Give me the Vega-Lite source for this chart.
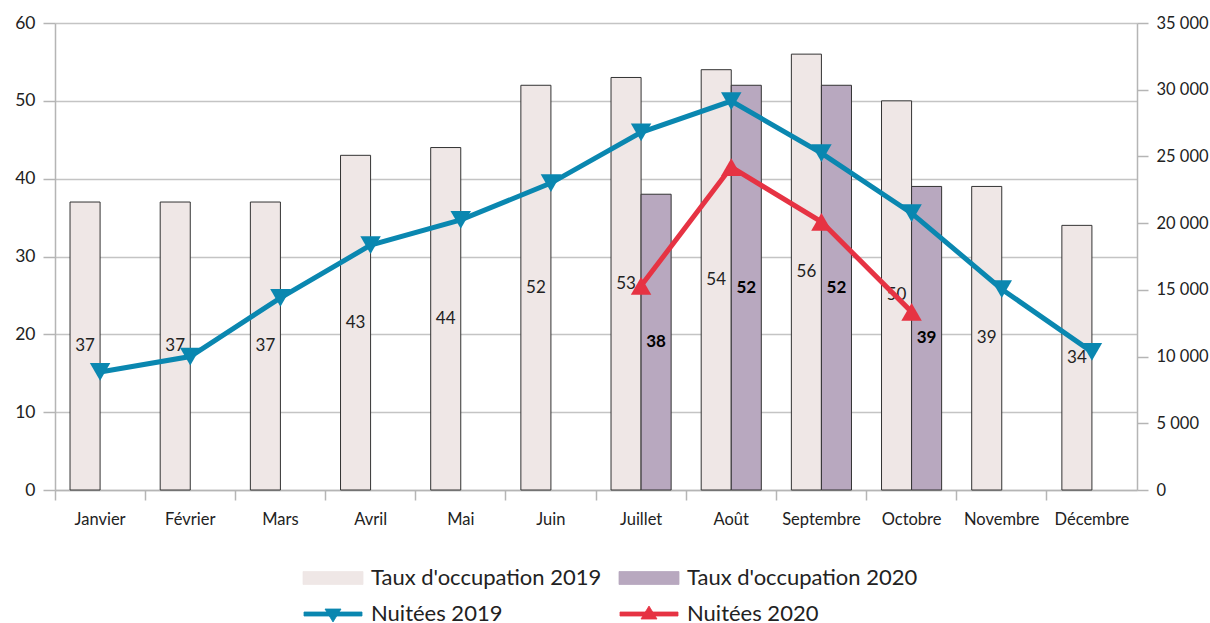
{
  "$schema": "https://vega.github.io/schema/vega-lite/v6.json",
  "width": 1082,
  "height": 467,
  "autosize": "none",
  "padding": {"left": 55, "top": 23, "right": 73, "bottom": 133},
  "config": {
    "font": "Lato",
    "view": {"stroke": null},
    "axis": {"labelFont": "Lato", "labelColor": "#222222", "titleFont": "Lato"},
    "legend": {
      "title": null,
      "orient": "none",
      "legendX": 267,
      "legendY": 544,
      "direction": "horizontal",
      "columns": 2,
      "columnPadding": 15,
      "rowPadding": 14,
      "padding": 0,
      "symbolSize": 400,
      "symbolStrokeColor": "#333333",
      "symbolStrokeWidth": 0.8,
      "symbolOpacity": 1,
      "labelOffset": 27,
      "labelFont": "Lato",
      "labelFontSize": 22,
      "labelColor": "#222222",
      "labelLimit": 400
    }
  },
  "datasets": {
    "taux": [
      {"mois": "Janvier", "serie": "Taux d'occupation 2019", "taux": 37},
      {"mois": "Février", "serie": "Taux d'occupation 2019", "taux": 37},
      {"mois": "Mars", "serie": "Taux d'occupation 2019", "taux": 37},
      {"mois": "Avril", "serie": "Taux d'occupation 2019", "taux": 43},
      {"mois": "Mai", "serie": "Taux d'occupation 2019", "taux": 44},
      {"mois": "Juin", "serie": "Taux d'occupation 2019", "taux": 52},
      {"mois": "Juillet", "serie": "Taux d'occupation 2019", "taux": 53},
      {"mois": "Août", "serie": "Taux d'occupation 2019", "taux": 54},
      {"mois": "Septembre", "serie": "Taux d'occupation 2019", "taux": 56},
      {"mois": "Octobre", "serie": "Taux d'occupation 2019", "taux": 50},
      {"mois": "Novembre", "serie": "Taux d'occupation 2019", "taux": 39},
      {"mois": "Décembre", "serie": "Taux d'occupation 2019", "taux": 34},
      {"mois": "Juillet", "serie": "Taux d'occupation 2020", "taux": 38},
      {"mois": "Août", "serie": "Taux d'occupation 2020", "taux": 52},
      {"mois": "Septembre", "serie": "Taux d'occupation 2020", "taux": 52},
      {"mois": "Octobre", "serie": "Taux d'occupation 2020", "taux": 39}
    ],
    "nuitees": [
      {"mois": "Janvier", "serie": "Nuitées 2019", "nuitees": 8850},
      {"mois": "Février", "serie": "Nuitées 2019", "nuitees": 10000},
      {"mois": "Mars", "serie": "Nuitées 2019", "nuitees": 14400},
      {"mois": "Avril", "serie": "Nuitées 2019", "nuitees": 18350},
      {"mois": "Mai", "serie": "Nuitées 2019", "nuitees": 20250},
      {"mois": "Juin", "serie": "Nuitées 2019", "nuitees": 23000},
      {"mois": "Juillet", "serie": "Nuitées 2019", "nuitees": 26800},
      {"mois": "Août", "serie": "Nuitées 2019", "nuitees": 29150},
      {"mois": "Septembre", "serie": "Nuitées 2019", "nuitees": 25250},
      {"mois": "Octobre", "serie": "Nuitées 2019", "nuitees": 20750},
      {"mois": "Novembre", "serie": "Nuitées 2019", "nuitees": 15050},
      {"mois": "Décembre", "serie": "Nuitées 2019", "nuitees": 10350},
      {"mois": "Juillet", "serie": "Nuitées 2020", "nuitees": 15300},
      {"mois": "Août", "serie": "Nuitées 2020", "nuitees": 24200},
      {"mois": "Septembre", "serie": "Nuitées 2020", "nuitees": 20100},
      {"mois": "Octobre", "serie": "Nuitées 2020", "nuitees": 13350}
    ]
  },
  "encoding": {
    "x": {
      "field": "mois",
      "type": "nominal",
      "sort": ["Janvier", "Février", "Mars", "Avril", "Mai", "Juin", "Juillet", "Août", "Septembre", "Octobre", "Novembre", "Décembre"],
      "scale": {"type": "band", "paddingInner": 0, "paddingOuter": 0},
      "axis": {
        "title": null,
        "labelAngle": 0,
        "labelFontSize": 16.5,
        "labelPadding": 11,
        "bandPosition": 0,
        "tickSize": 10,
        "tickWidth": 1.5,
        "tickColor": "#b5b5b5",
        "domainColor": "#b5b5b5",
        "domainWidth": 1.5,
        "grid": false
      }
    }
  },
  "layer": [
    {
      "data": {"name": "taux"},
      "mark": {"type": "bar", "stroke": "#333333", "strokeWidth": 1},
      "encoding": {
        "xOffset": {
          "field": "serie",
          "type": "nominal",
          "scale": {"domain": ["Taux d'occupation 2019", "Taux d'occupation 2020"], "paddingOuter": 0.5, "paddingInner": 0}
        },
        "y": {
          "field": "taux",
          "type": "quantitative",
          "scale": {"domain": [0, 60], "nice": false},
          "axis": {
            "title": null,
            "orient": "left",
            "values": [0, 10, 20, 30, 40, 50, 60],
            "grid": true,
            "gridColor": "#c4c4c4",
            "gridWidth": 1.5,
            "domainColor": "#b5b5b5",
            "domainWidth": 1.5,
            "tickColor": "#b5b5b5",
            "tickWidth": 1.5,
            "tickSize": 12,
            "labelPadding": 8,
            "labelFontSize": 17.5
          }
        },
        "color": {
          "field": "serie",
          "type": "nominal",
          "scale": {
            "domain": ["Taux d'occupation 2019", "Taux d'occupation 2020", "Nuitées 2019", "Nuitées 2020"],
            "range": ["#efe7e6", "#b8a8bf", "#0a87b0", "#e63343"]
          }
        }
      }
    },
    {
      "data": {"name": "taux"},
      "encoding": {
        "xOffset": {
          "field": "serie",
          "type": "nominal",
          "scale": {"domain": ["Taux d'occupation 2019", "Taux d'occupation 2020"], "paddingOuter": 0.5, "paddingInner": 0}
        },
        "y": {
          "field": "taux",
          "type": "quantitative",
          "scale": {"domain": [0, 120], "nice": false},
          "axis": null
        },
        "text": {"field": "taux", "type": "quantitative"}
      },
      "layer": [
        {
          "transform": [{"filter": "indexof(datum.serie, '2019') >= 0"}],
          "mark": {"type": "text", "align": "center", "baseline": "middle", "fontSize": 17, "font": "Lato", "color": "#222222"}
        },
        {
          "transform": [{"filter": "indexof(datum.serie, '2020') >= 0"}],
          "mark": {"type": "text", "align": "center", "baseline": "middle", "fontSize": 17, "font": "Lato", "fontWeight": "bold", "color": "#000000"}
        }
      ]
    },
    {
      "data": {"name": "nuitees"},
      "encoding": {
        "y": {
          "field": "nuitees",
          "type": "quantitative",
          "scale": {"domain": [0, 35000], "nice": false},
          "axis": {
            "title": null,
            "orient": "right",
            "values": [0, 5000, 10000, 15000, 20000, 25000, 30000, 35000],
            "labelExpr": "replace(format(datum.value, ','), ',', ' ')",
            "grid": false,
            "domainColor": "#b5b5b5",
            "domainWidth": 1.5,
            "tickColor": "#b5b5b5",
            "tickWidth": 1.5,
            "tickSize": 11,
            "labelPadding": 8,
            "labelFontSize": 16.5
          }
        },
        "color": {"field": "serie", "type": "nominal"}
      },
      "layer": [
        {"mark": {"type": "line", "strokeWidth": 5}},
        {
          "transform": [{"filter": "datum.serie === 'Nuitées 2019'"}],
          "mark": {"type": "point", "shape": "triangle-down", "filled": true, "opacity": 1, "size": 420, "strokeWidth": 0}
        },
        {
          "transform": [{"filter": "datum.serie === 'Nuitées 2020'"}],
          "mark": {"type": "point", "shape": "triangle-up", "filled": true, "opacity": 1, "size": 420, "strokeWidth": 0}
        },
        {
          "transform": [{"filter": "false"}],
          "mark": {"type": "point", "filled": true, "opacity": 1},
          "encoding": {
            "shape": {
              "field": "serie",
              "type": "nominal",
              "scale": {
                "domain": ["Taux d'occupation 2019", "Taux d'occupation 2020", "Nuitées 2019", "Nuitées 2020"],
                "range": ["M-3,-0.65H3V0.65H-3Z", "M-3,-0.65H3V0.65H-3Z", "M-2.9,-0.2H2.9V0.2H-2.9Z M-0.8,-0.5L0.8,-0.5L0,0.8Z", "M-2.9,-0.2H2.9V0.2H-2.9Z M0.8,0.5L-0.8,0.5L0,-0.8Z"]
              }
            }
          }
        }
      ]
    }
  ],
  "resolve": {"scale": {"y": "independent"}}
}
